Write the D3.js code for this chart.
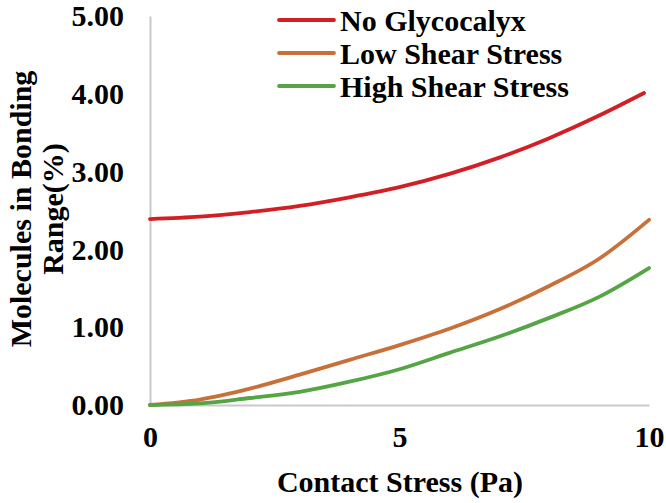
<!DOCTYPE html>
<html><head><meta charset="utf-8">
<script src="https://cdn.jsdelivr.net/npm/d3@7"></script>
<style>html,body{margin:0;padding:0;background:#fff;}svg{display:block;}</style>
</head><body>
<svg id="c" width="666" height="503"></svg>
<script>
const seriesNames = ["No Glycocalyx", "Low Shear Stress", "High Shear Stress"];
const seriesColors = ["#d21f26", "#c8703a", "#55a546"];
const xNoGly = [0, 1, 2, 3, 4, 5, 6, 7, 8, 9, 9.9];
const yNoGly = [2.39, 2.42, 2.48, 2.56, 2.67, 2.80, 2.97, 3.18, 3.43, 3.72, 4.01];
const xShear = [0, 1, 2, 3, 4, 5, 6, 7, 8, 9, 10];
const yLow = [0, 0.07, 0.21, 0.39, 0.58, 0.77, 0.98, 1.23, 1.53, 1.88, 2.38];
const yHigh = [0, 0.02, 0.09, 0.17, 0.30, 0.46, 0.67, 0.88, 1.12, 1.39, 1.76];
const xTicks = [0, 5, 10];
const yTicks = [0, 1, 2, 3, 4, 5];

const svg = d3.select("#c");
const font = "'Liberation Serif','Times New Roman',serif";
const fs = 30;
const x = d3.scaleLinear().domain([0, 10]).range([150, 649]);
const y = d3.scaleLinear().domain([0, 5]).range([405, 16]);

const axisColor = "#c9c9c9";
const yAxis = d3.axisLeft(y).tickValues(yTicks).tickFormat(d3.format(".2f")).tickSize(0).tickPadding(26);
const gy = svg.append("g").attr("transform", `translate(${x(0)},0)`).call(yAxis);
gy.select(".domain").attr("stroke", axisColor).attr("stroke-width", 2);
gy.selectAll("text").attr("font-family", font).attr("font-weight", "bold").attr("font-size", fs).attr("fill", "#000");

const xAxis = d3.axisBottom(x).tickValues(xTicks).tickFormat(d3.format("d")).tickSize(0).tickPadding(21);
const gx = svg.append("g").attr("transform", `translate(0,${y(0)})`).call(xAxis);
gx.select(".domain").attr("stroke", axisColor).attr("stroke-width", 2);
gx.selectAll("text").attr("font-family", font).attr("font-weight", "bold").attr("font-size", fs).attr("fill", "#000");

const line = d3.line().x(d => x(d[0])).y(d => y(d[1])).curve(d3.curveMonotoneX);
const data = [
  d3.zip(xNoGly, yNoGly),
  d3.zip(xShear, yLow),
  d3.zip(xShear, yHigh)
];
data.forEach((pts, i) => {
  svg.append("path").datum(pts).attr("d", line)
    .attr("fill", "none").attr("stroke", seriesColors[i])
    .attr("stroke-width", 3.8).attr("stroke-linecap", "round").attr("stroke-linejoin", "round");
});

svg.append("text").attr("x", 400).attr("y", 492).attr("text-anchor", "middle")
  .attr("font-family", font).attr("font-weight", "bold").attr("font-size", fs)
  .text("Contact Stress (Pa)");
const yt = svg.append("text").attr("transform", "translate(20,209) rotate(-90)")
  .attr("text-anchor", "middle").attr("font-family", font).attr("font-weight", "bold").attr("font-size", fs);
yt.append("tspan").attr("x", 0).attr("dy", "0.35em").text("Molecules in Bonding");
yt.append("tspan").attr("x", 0).attr("dy", 32).text("Range(%)");

const lg = svg.append("g");
seriesNames.forEach((n, i) => {
  const cy = 20 + i * 33;
  lg.append("line").attr("x1", 279).attr("x2", 334).attr("y1", cy).attr("y2", cy)
    .attr("stroke", seriesColors[i]).attr("stroke-width", 3.8).attr("stroke-linecap", "round");
  lg.append("text").attr("x", 340).attr("y", cy).attr("dy", "0.35em")
    .attr("font-family", font).attr("font-weight", "bold").attr("font-size", fs).text(n);
});
</script>
</body></html>
